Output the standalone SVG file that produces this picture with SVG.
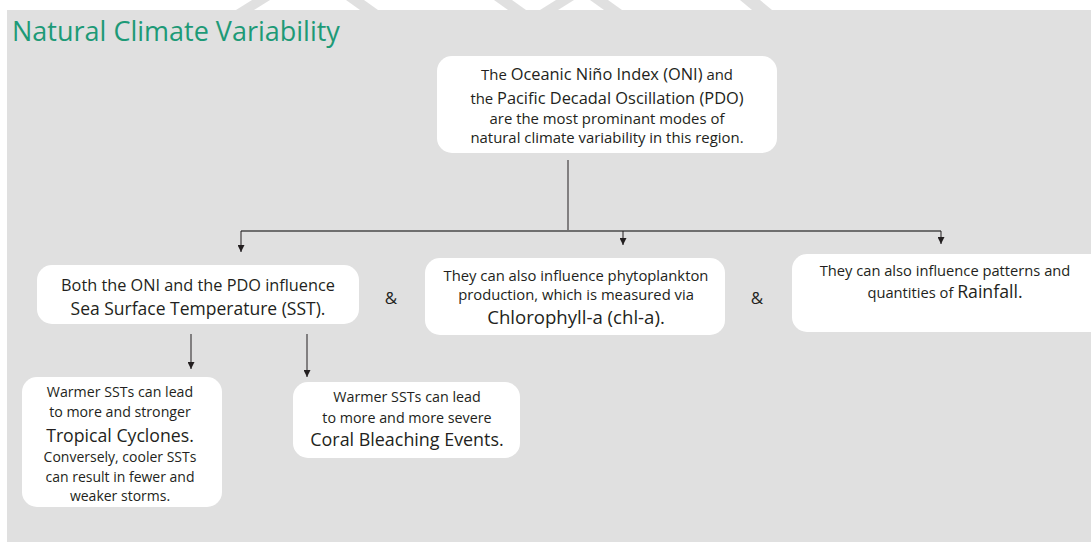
<svg xmlns="http://www.w3.org/2000/svg" width="1091" height="542" viewBox="0 0 1091 542">
<style>
.bg{fill:#e0e0e0}
.box{fill:#ffffff}
.t{font-family:"Open Sans","Liberation Sans",sans-serif;fill:#231f20;text-anchor:middle}
.s{font-size:14.9px}
.b{font-size:16.4px}
.amp{font-size:17px}
.title{font-family:"Open Sans","Liberation Sans",sans-serif;font-size:27px;fill:#1d9a77}
.ln{stroke:#231f20;stroke-width:1;fill:none}
.hl{stroke:#6f6f6f;stroke-width:2;fill:none}
</style>
<defs>
<marker id="ah" markerWidth="7" markerHeight="7" refX="7" refY="3.5" orient="auto" markerUnits="userSpaceOnUse">
<path d="M0,0 L7,3.5 L0,7 Z" fill="#231f20"/>
</marker>
</defs>
<rect x="0" y="0" width="1091" height="542" fill="#ffffff"/>
<g id="watermark" class="bg">
<polygon points="236,10 252,0 270,0 254,10"/>
<polygon points="346,0 364,0 378,10 360,10"/>
<polygon points="494,0 512,0 526,10 508,10"/>
<polygon points="540,10 556,0 574,0 558,10"/>
<polygon points="590,0 608,0 622,10 604,10"/>
<polygon points="740,0 760,0 772,10 752,10"/>
</g>
<rect class="bg" x="7" y="10" width="1084" height="532"/>
<text class="title" x="12" y="41">Natural Climate Variability</text>
<g id="connectors">
<path class="ln" d="M568,160 V231"/>
<path class="hl" d="M241,231 H941"/>
<path class="ln" d="M241,231 V252" marker-end="url(#ah)"/>
<path class="ln" d="M623,231 V245" marker-end="url(#ah)"/>
<path class="ln" d="M941,231 V244" marker-end="url(#ah)"/>
<path class="ln" d="M191,334 V369" marker-end="url(#ah)"/>
<path class="ln" d="M307,334 V377" marker-end="url(#ah)"/>
</g>
<g id="node-top">
<rect class="box" x="437" y="56" width="340" height="97" rx="15"/>
<text class="t" x="607" y="80"><tspan class="s">The </tspan><tspan class="b">Oceanic Niño Index (ONI)</tspan><tspan class="s"> and</tspan></text>
<text class="t" x="607" y="104"><tspan class="s">the </tspan><tspan class="b">Pacific Decadal Oscillation (PDO)</tspan></text>
<text class="t s" x="607" y="124">are the most prominant modes of</text>
<text class="t s" x="607" y="143">natural climate variability in this region.</text>
</g>
<g id="node-sst">
<rect class="box" x="37" y="265" width="322" height="59" rx="15"/>
<text class="t" x="198" y="291" style="font-size:16.3px">Both the ONI and the PDO influence</text>
<text class="t" x="198" y="315" style="font-size:17.5px">Sea Surface Temperature (SST).</text>
</g>
<text class="t amp" x="391" y="304">&amp;</text>
<g id="node-chl">
<rect class="box" x="425" y="258" width="300" height="77" rx="15"/>
<text class="t" x="576" y="281" style="font-size:14.8px">They can also influence phytoplankton</text>
<text class="t" x="576" y="300" style="font-size:14.8px">production, which is measured via</text>
<text class="t" x="576" y="324" style="font-size:18.6px">Chlorophyll-a (chl-a).</text>
</g>
<text class="t amp" x="757" y="304">&amp;</text>
<g id="node-rain">
<rect class="box" x="792" y="254" width="312" height="78" rx="15"/>
<text class="t" x="945" y="276" style="font-size:14.7px">They can also influence patterns and</text>
<text class="t" x="945" y="298"><tspan style="font-size:14.7px">quantities of </tspan><tspan style="font-size:17.7px">Rainfall.</tspan></text>
</g>
<g id="node-cyclones">
<rect class="box" x="22" y="377" width="200" height="130" rx="15"/>
<text class="t" x="120" y="397" style="font-size:14.2px">Warmer SSTs can lead</text>
<text class="t" x="120" y="417" style="font-size:14.2px">to more and stronger</text>
<text class="t" x="120" y="442" style="font-size:17.7px">Tropical Cyclones.</text>
<text class="t" x="120" y="462" style="font-size:14px">Conversely, cooler SSTs</text>
<text class="t" x="120" y="482" style="font-size:14px">can result in fewer and</text>
<text class="t" x="120" y="501" style="font-size:14px">weaker storms.</text>
</g>
<g id="node-coral">
<rect class="box" x="293" y="382" width="227" height="76" rx="15"/>
<text class="t" x="407" y="402" style="font-size:14.3px">Warmer SSTs can lead</text>
<text class="t" x="407" y="423" style="font-size:14.3px">to more and more severe</text>
<text class="t" x="407" y="446" style="font-size:17.9px">Coral Bleaching Events.</text>
</g>
</svg>
